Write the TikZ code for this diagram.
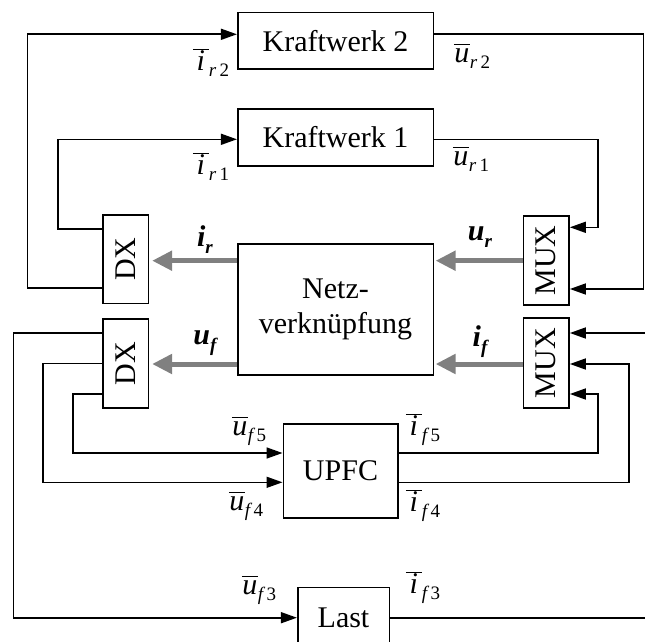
\documentclass[tikz,border=0pt]{standalone}
\usepackage{fontspec}
\setmainfont{Liberation Serif}
\usepackage{graphicx}
\usetikzlibrary{arrows.meta}
\definecolor{arrgray}{RGB}{128,128,128}
\newcommand{\bsig}[3]{\hbox{$\overline{\vrule height 17pt width 0pt\hbox to 16pt{\hss\itshape #1\hss}}$\raisebox{-6pt}{\fontsize{19}{22}\selectfont\itshape #2\hspace{3.5pt}\upshape #3}}}
\newcommand{\vsig}[2]{\hbox{\bfseries\itshape #1\raisebox{-7pt}{\fontsize{19}{22}\selectfont #2}}}
\tikzset{
  box/.style={draw, line width=1.6pt, inner sep=0pt, font=\fontsize{30}{35}\selectfont, align=center},
  arr/.style={line width=1.6pt, -{Triangle[length=16pt,width=11pt]}},
  ln/.style={line width=1.6pt},
  garr/.style={line width=5pt, draw=arrgray, -{Triangle[length=20pt,width=19pt]}},
  sig/.style={inner sep=0pt, font=\fontsize{30}{35}\selectfont},
}
\begin{document}
\begin{tikzpicture}[x=1pt,y=-1pt]
\path[use as bounding box] (0,0) rectangle (645,642);
\clip (0,0) rectangle (645,642);
% boxes
\node[box, minimum width=195.6pt, minimum height=56.7pt] (K2) at (335.5,40.7) {Kraftwerk 2};
\node[box, minimum width=195.6pt, minimum height=57pt] (K1) at (335.5,137.5) {Kraftwerk 1};
\node[box, minimum width=45.6pt, minimum height=88.3pt] (DXa) at (125.5,259.2) {\rotatebox{90}{DX}};
\node[box, minimum width=45.6pt, minimum height=89pt] (DXb) at (125.5,363.5) {\rotatebox{90}{DX}};
\node[box, minimum width=45.7pt, minimum height=89.3pt] (MUXa) at (546.2,260.4) {\rotatebox{90}{MUX}};
\node[box, minimum width=45.7pt, minimum height=90pt] (MUXb) at (546.2,363) {\rotatebox{90}{MUX}};
\node[box, minimum width=195.6pt, minimum height=131pt] (Netz) at (335.5,309.5) {Netz-\\verknüpfung};
\node[box, minimum width=114.4pt, minimum height=94pt] (UPFC) at (340.5,471) {UPFC};
\node[box, minimum width=91.6pt, minimum height=61pt] (Last) at (343.5,617.8) {Last};
% levels
\coordinate (yK2) at (0,34.3);
\coordinate (yK1) at (0,139.3);
\coordinate (yA1) at (0,229);
\coordinate (yA2) at (0,288);
\coordinate (yM1) at (0,227.3);
\coordinate (yM2) at (0,289);
\coordinate (yG1) at (0,260.7);
\coordinate (yG2) at (0,364);
\coordinate (yB1) at (0,333);
\coordinate (yB2) at (0,363.3);
\coordinate (yB3) at (0,394);
\coordinate (yU5) at (0,453);
\coordinate (yU4) at (0,482.3);
\coordinate (yL) at (0,617.7);
\coordinate (xo) at (27.3,0);
\coordinate (xi) at (57.7,0);
\coordinate (xr) at (643.3,0);
\coordinate (xr1) at (597.7,0);
\coordinate (xl1) at (13.3,0);
\coordinate (xl2) at (42.7,0);
\coordinate (xl3) at (72.7,0);
\coordinate (xq) at (629,0);
\coordinate (eB1) at (646,333);
\coordinate (eL) at (646,617.7);
% connectors
\draw[arr] (DXa.west |- yA2) -| (xo |- yK2) -- (K2.west |- yK2);
\draw[arr] (DXa.west |- yA1) -| (xi |- yK1) -- (K1.west |- yK1);
\draw[arr] (K2.east |- yK2) -| (xr |- yM2) -- (MUXa.east |- yM2);
\draw[arr] (K1.east |- yK1) -| (xr1 |- yM1) -- (MUXa.east |- yM1);
\draw[garr, shorten >=3pt] (Netz.west |- yG1) -- (DXa.east |- yG1);
\draw[garr, shorten >=1.5pt] (MUXa.west |- yG1) -- (Netz.east |- yG1);
\draw[garr, shorten >=3pt] (Netz.west |- yG2) -- (DXb.east |- yG2);
\draw[garr, shorten >=1.5pt] (MUXb.west |- yG2) -- (Netz.east |- yG2);
\draw[arr] (DXb.west |- yB1) -| (xl1 |- yL) -- (Last.west |- yL);
\draw[arr] (DXb.west |- yB2) -| (xl2 |- yU4) -- (UPFC.west |- yU4);
\draw[arr] (DXb.west |- yB3) -| (xl3 |- yU5) -- (UPFC.west |- yU5);
\draw[arr] (UPFC.east |- yU5) -| (xr1 |- yB3) -- (MUXb.east |- yB3);
\draw[arr] (UPFC.east |- yU4) -| (xq |- yG2) -- (MUXb.east |- yG2);
\draw[arr] (eB1) -- (MUXb.east |- eB1);
\draw[ln] (Last.east |- yL) -- (eL);
% labels
\node[sig] (lir2) at (211,63) {\bsig{i}{r}{2}};
\node[sig] (lir1) at (211,167) {\bsig{i}{r}{1}};
\node[sig] (lur2) at (472,56) {\bsig{u}{r}{2}};
\node[sig] (lur1) at (471,159) {\bsig{u}{r}{1}};
\node[sig] (luf5) at (249,431) {\bsig{u}{f}{5}};
\node[sig] (lif5) at (423,430) {\bsig{i}{f}{5}};
\node[sig] (luf4) at (246,506) {\bsig{u}{f}{4}};
\node[sig] (lif4) at (423,506) {\bsig{i}{f}{4}};
\node[sig] (luf3) at (259,590) {\bsig{u}{f}{3}};
\node[sig] (lif3) at (423,588) {\bsig{i}{f}{3}};
\node[sig] (vir) at (205,240) {\vsig{i}{r}};
\node[sig] (vur) at (480,237) {\vsig{u}{r}};
\node[sig] (vuf) at (205,343) {\vsig{u}{f}};
\node[sig] (vif) at (480,342) {\vsig{i}{f}};
\end{tikzpicture}
\end{document}
